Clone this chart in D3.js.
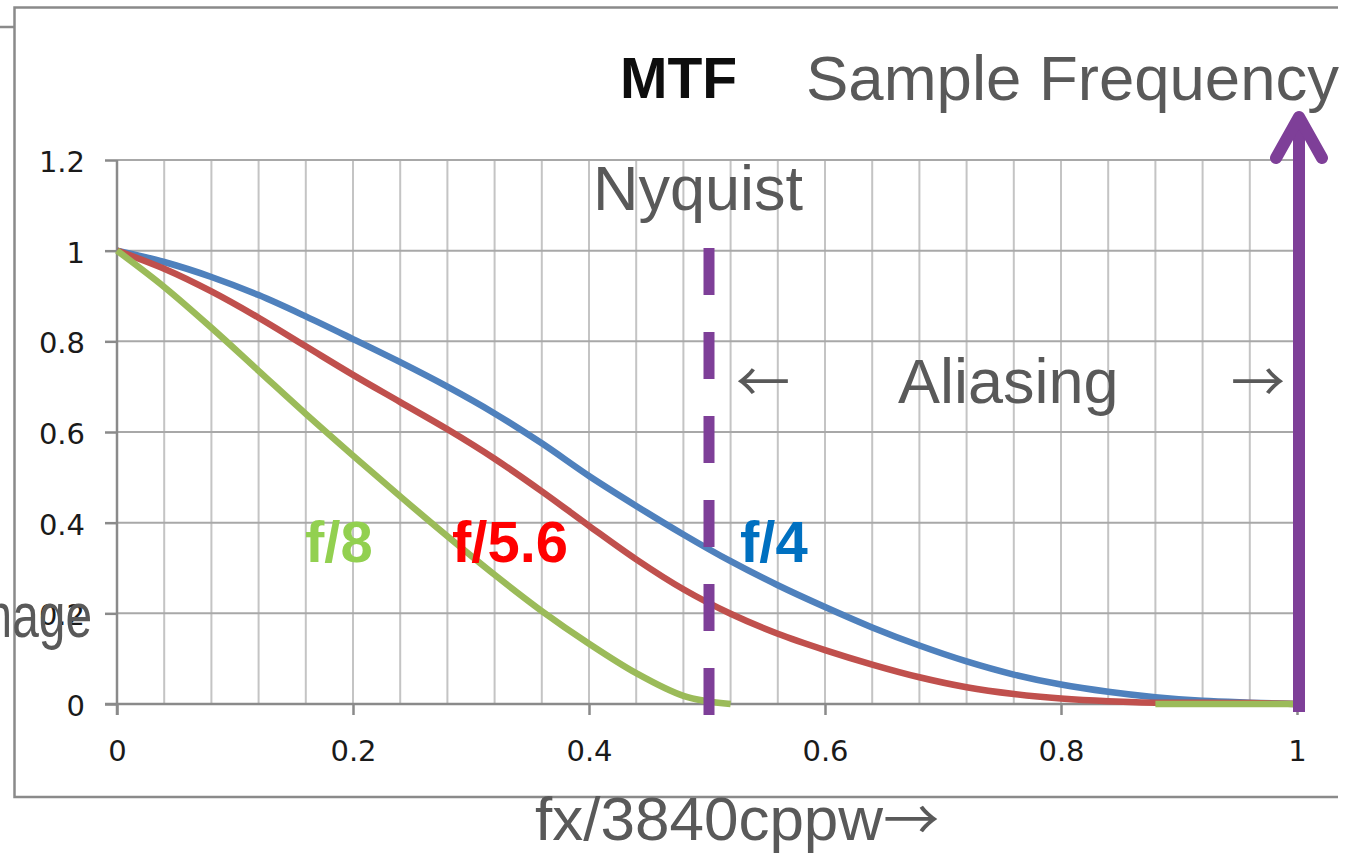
<!DOCTYPE html>
<html>
<head>
<meta charset="utf-8">
<script src="https://cdn.jsdelivr.net/npm/d3@7/dist/d3.min.js"></script>
<style>
  html, body { margin: 0; padding: 0; background: #fff; }
  svg { display: block; }
</style>
</head>
<body>
<svg id="chart" width="1361" height="853"></svg>
<script>
// ---- data ----
const freq = [0, 0.04, 0.08, 0.12, 0.16, 0.20, 0.24, 0.28, 0.32, 0.36, 0.40, 0.44, 0.48,
              0.52, 0.56, 0.60, 0.64, 0.68, 0.72, 0.76, 0.80, 0.84, 0.88, 0.92, 0.96, 1.00];
const mtfF4  = [1, 0.975, 0.942, 0.902, 0.855, 0.805, 0.754, 0.700, 0.641, 0.575, 0.503, 0.437, 0.374,
                0.315, 0.262, 0.214, 0.169, 0.129, 0.094, 0.065, 0.043, 0.027, 0.015, 0.007, 0.003, 0];
const mtfF56 = [1, 0.960, 0.910, 0.852, 0.789, 0.726, 0.666, 0.606, 0.541, 0.469, 0.393, 0.319, 0.253,
                0.199, 0.155, 0.119, 0.087, 0.059, 0.037, 0.022, 0.012, 0.006, 0.003, 0.003, 0.002, 0];
const mtfF8  = [1, 0.920, 0.830, 0.735, 0.640, 0.548, 0.458, 0.370, 0.285, 0.205, 0.133, 0.068, 0.018,
                0, null, null, null, null, null, null, null, null, 0, 0, 0, 0];
const seriesNames = ["f/4", "f/5.6", "f/8"];
const yTickValues = [0, 0.2, 0.4, 0.6, 0.8, 1, 1.2];
const yTickLabels = ["0", "0.2", "0.4", "0.6", "0.8", "1", "1.2"];
const xTickValues = [0, 0.2, 0.4, 0.6, 0.8, 1];
const xTickLabels = ["0", "0.2", "0.4", "0.6", "0.8", "1"];
const xGridValues = freq.slice(1);
const nyquist = 0.5;
const sampleFreq = 1.0;

// ---- layout ----
const svg = d3.select("#chart");
const x = d3.scaleLinear().domain([0, 1]).range([117, 1297]);
const y = d3.scaleLinear().domain([0, 1.2]).range([704, 160]);

svg.append("rect").attr("width", 1361).attr("height", 853).attr("fill", "#fff");

// outer frame (partial)
const frame = svg.append("g").attr("stroke", "#8a8a8a").attr("stroke-width", 2.5).attr("fill", "none");
frame.append("path").attr("d", "M1338,7.5 H14.5 V797 H1338");
frame.append("path").attr("d", "M0,27 H14.5");

// vertical grid
svg.append("g").selectAll("line").data(xGridValues).join("line")
  .attr("x1", d => x(d)).attr("x2", d => x(d))
  .attr("y1", y(1.2)).attr("y2", y(0))
  .attr("stroke", "#c4c4c4").attr("stroke-width", 2);

// horizontal grid
svg.append("g").selectAll("line").data(yTickValues.slice(1)).join("line")
  .attr("x1", x(0)).attr("x2", x(1))
  .attr("y1", d => y(d)).attr("y2", d => y(d))
  .attr("stroke", "#a8a8a8").attr("stroke-width", 2);

// axes
const yAxis = d3.axisLeft(y).tickValues(yTickValues)
  .tickFormat((d, i) => yTickLabels[i]).tickSize(12).tickPadding(20);
const gy = svg.append("g").attr("transform", `translate(${x(0)},0)`).call(yAxis);
gy.select(".domain").attr("d", `M0,${y(1.2)}V${y(0) + 11}`);

const xAxis = d3.axisBottom(x).tickValues(xTickValues)
  .tickFormat((d, i) => xTickLabels[i]).tickSize(11).tickPadding(25);
const gx = svg.append("g").attr("transform", `translate(0,${y(0)})`).call(xAxis);
gx.select(".domain").attr("d", `M${x(0) - 12},0H${x(1)}`);

[gx, gy].forEach(g => {
  g.selectAll(".domain").attr("stroke", "#8a8a8a").attr("stroke-width", 2.5).attr("fill", "none");
  g.selectAll(".tick line").attr("stroke", "#8a8a8a").attr("stroke-width", 2.5);
  g.selectAll(".tick text").attr("fill", "#1a1a1a")
    .style("font-family", "'DejaVu Sans', Verdana, sans-serif").style("font-size", "29px");
});
gy.selectAll(".tick text").attr("dy", "0.40em");
gx.selectAll(".tick text").attr("dy", "0.71em");

// curves
const line = d3.line()
  .defined(d => d[1] !== null)
  .x(d => x(d[0])).y(d => y(d[1]))
  .curve(d3.curveMonotoneX);
const series = [
  { name: seriesNames[0], values: mtfF4,  color: "#4F81BD" },
  { name: seriesNames[1], values: mtfF56, color: "#C0504D" },
  { name: seriesNames[2], values: mtfF8,  color: "#9BBB59" }
];
svg.append("g").selectAll("path").data(series).join("path")
  .attr("d", s => line(freq.map((f, i) => [f, s.values[i]])))
  .attr("fill", "none").attr("stroke", s => s.color)
  .attr("stroke-width", 6.5).attr("stroke-linejoin", "round");

// Nyquist dashed line
const purple = "#7E3F98";
svg.append("line")
  .attr("x1", x(nyquist) + 2).attr("x2", x(nyquist) + 2)
  .attr("y1", 248).attr("y2", 715)
  .attr("stroke", purple).attr("stroke-width", 11)
  .attr("stroke-dasharray", "47 37");

// Sample frequency arrow
const ax = x(sampleFreq) + 2;
svg.append("line")
  .attr("x1", ax).attr("x2", ax).attr("y1", 712).attr("y2", 118)
  .attr("stroke", purple).attr("stroke-width", 12);
svg.append("path")
  .attr("d", `M${ax - 23},158 L${ax},117 L${ax + 23},158`)
  .attr("fill", "none").attr("stroke", purple).attr("stroke-width", 12)
  .attr("stroke-linecap", "round").attr("stroke-linejoin", "round");

// texts
const sans = "'Liberation Sans', Arial, sans-serif";
const arrowFont = "'Noto Sans CJK JP', 'DejaVu Sans', sans-serif";
const gray = "#595959";
function txt(t, px, py, size, color, opts = {}) {
  const el = svg.append("text").attr("x", px).attr("y", py).text(t)
    .style("font-family", opts.font || sans).style("font-size", size + "px")
    .attr("fill", color);
  if (opts.bold) el.style("font-weight", "bold");
  if (opts.anchor) el.attr("text-anchor", opts.anchor);
  return el;
}
txt("MTF", 620, 98, 57, "#0d0d0d", { bold: true });
txt("Sample Frequency", 806, 100, 63.5, gray);
txt("Nyquist", 593, 210, 63, gray);
txt("\u2190", 736, 402, 54, gray, { font: arrowFont });
txt("Aliasing", 898, 403, 63, gray);
txt("\u2192", 1231, 402, 54, gray, { font: arrowFont });
const fxText = svg.append("text").attr("x", 535).attr("y", 840)
  .style("font-family", sans).style("font-size", "62px").attr("fill", gray);
fxText.append("tspan").text("fx/3840cppw");
fxText.append("tspan").text("\u2192").style("font-family", arrowFont).style("font-size", "56px");
svg.append("text").attr("transform", "translate(92,637) scale(0.76,1)")
  .attr("text-anchor", "end").text("Image")
  .style("font-family", sans).style("font-size", "63px").attr("fill", gray);

txt(seriesNames[2], 305, 562, 58, "#92D050", { bold: true });
txt(seriesNames[1], 452, 562, 58, "#FF0000", { bold: true });
txt(seriesNames[0], 740, 562, 58, "#0070C0", { bold: true });
</script>
</body>
</html>
